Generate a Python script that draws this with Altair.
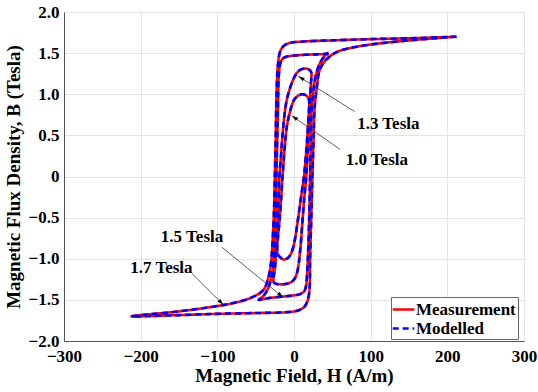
import math
import altair as alt
import pandas as pd

# ---------------- data ----------------
# 1.7 Tesla loop
desc17_H = [212, 150, 100, 50, 10, -5, -13, -18, -21, -23, -24, -25, -26, -28, -30, -34, -40, -55, -80, -100, -150, -212]
desc17_B = [1.70, 1.68, 1.67, 1.655, 1.64, 1.625, 1.59, 1.52, 1.35, 0.90, 0.40, 0.00, -0.40, -0.80, -1.05, -1.25, -1.38, -1.47, -1.54, -1.575, -1.64, -1.70]
asc17_H = [-212, -150, -100, -50, -10, 5, 13, 17, 20, 21, 22.5, 24, 25.5, 27, 30, 33, 40, 55, 80, 100, 150, 212]
asc17_B = [-1.70, -1.685, -1.67, -1.66, -1.65, -1.63, -1.59, -1.53, -1.40, -1.00, -0.50, 0.00, 0.45, 0.85, 1.10, 1.28, 1.40, 1.51, 1.575, 1.605, 1.655, 1.70]

# 1.5 Tesla loop
desc15_H = [45, 40, 30, 15, 0, -10, -15, -18, -20, -21, -22, -23, -24, -25.5, -28, -33, -38, -42, -46]
desc15_B = [1.50, 1.49, 1.485, 1.48, 1.47, 1.455, 1.43, 1.37, 1.20, 0.80, 0.40, 0.00, -0.40, -0.80, -1.15, -1.34, -1.43, -1.47, -1.50]
asc15_H = [-46, -40, -30, -15, 0, 8, 13, 15.5, 17, 18.5, 20, 21, 22, 23, 26, 29, 33, 38, 42, 45]
asc15_B = [-1.50, -1.49, -1.475, -1.46, -1.445, -1.43, -1.40, -1.34, -1.20, -0.90, -0.45, 0.00, 0.45, 0.80, 1.10, 1.25, 1.36, 1.44, 1.48, 1.50]

# 1.3 Tesla loop
desc13_H = [23, 21, 17, 12, 7, 3, -1, -5, -9, -12, -15, -17, -19, -20.5, -22, -23.5, -25, -26.5, -27]
desc13_B = [1.25, 1.29, 1.31, 1.31, 1.29, 1.25, 1.18, 1.08, 0.95, 0.78, 0.50, 0.25, 0.00, -0.35, -0.70, -0.95, -1.12, -1.22, -1.27]
asc13_H = [-27, -25, -20, -14, -8, -3, 1, 4, 6, 7.5, 9, 11, 13.5, 16, 18, 19.5, 21, 22, 23]
asc13_B = [-1.27, -1.30, -1.31, -1.31, -1.30, -1.28, -1.24, -1.17, -1.07, -0.95, -0.80, -0.55, -0.25, 0.00, 0.35, 0.70, 0.95, 1.12, 1.25]

# 1.0 Tesla loop
desc10_H = [20, 19, 15, 10, 5, 0, -3, -6, -9, -11, -13, -15, -17, -19, -21, -22]
desc10_B = [0.88, 0.95, 0.99, 1.00, 0.98, 0.93, 0.86, 0.76, 0.63, 0.47, 0.25, 0.00, -0.30, -0.55, -0.75, -0.88]
asc10_H = [-22, -21, -17, -13, -8, -4, -1, 1.5, 4, 7, 10, 13, 15.5, 17.5, 19, 20]
asc10_B = [-0.88, -0.95, -0.99, -1.01, -0.99, -0.94, -0.86, -0.75, -0.60, -0.40, -0.20, 0.00, 0.25, 0.50, 0.72, 0.88]

series_names = ["Measurement", "Modelled"]
series_colors = ["#ff0000", "#0000ff"]

# annotations
label_text = ["1.3 Tesla", "1.0 Tesla", "1.5 Tesla", "1.7 Tesla"]
label_H = [123, 108, -133, -173]
label_B = [0.64, 0.20, -0.74, -1.11]
arrow_H0 = [79, 60, -94, -133]
arrow_B0 = [0.79, 0.33, -0.86, -1.18]
arrow_H1 = [5.6, -3, -14, -92]
arrow_B1 = [1.22, 0.74, -1.47, -1.56]

# ---------------- build tables ----------------
W, Hh = 460, 329
loops = {
    "1.7": (desc17_H, desc17_B, asc17_H, asc17_B),
    "1.5": (desc15_H, desc15_B, asc15_H, asc15_B),
    "1.3": (desc13_H, desc13_B, asc13_H, asc13_B),
    "1.0": (desc10_H, desc10_B, asc10_H, asc10_B),
}
rows = []
for s in series_names:
    for name, (dh, db, ah, ab) in loops.items():
        hs = list(dh) + list(ah[1:])
        bs = list(db) + list(ab[1:])
        for i, (h, b) in enumerate(zip(hs, bs)):
            rows.append({"series": s, "loop": name, "i": i, "H": h, "B": b})
df = pd.DataFrame(rows)

ann = pd.DataFrame({"text": label_text, "H": label_H, "B": label_B})
arr_rows = []
for h0, b0, h1, b1 in zip(arrow_H0, arrow_B0, arrow_H1, arrow_B1):
    dx = (h1 - h0) * W / 600.0
    dy = -(b1 - b0) * Hh / 4.0
    ang = math.degrees(math.atan2(dx, -dy)) % 360
    arr_rows.append({"H0": h0, "B0": b0, "H1": h1, "B1": b1, "ang": ang})
arr = pd.DataFrame(arr_rows)

FONT = "'Liberation Serif', 'Times New Roman', 'DejaVu Serif', serif"

xscale = alt.Scale(domain=[-300, 300], nice=False)
yscale = alt.Scale(domain=[-2, 2], nice=False)

xaxis = alt.Axis(
    values=[-300, -200, -100, 0, 100, 200, 300], title="Magnetic Field, H (A/m)",
    grid=True, ticks=False, labelPadding=7, labelFlush=False, labelOverlap=False,
    titlePadding=2,
)
yaxis = alt.Axis(
    values=[-2, -1.5, -1, -0.5, 0, 0.5, 1, 1.5, 2], title="Magnetic Flux Density, B (Tesla)",
    grid=True, ticks=False, labelPadding=5, labelFlush=False, labelOverlap=False,
    labelExpr="datum.value == 0 ? '0' : format(datum.value, '.1f')",
    titlePadding=5,
)

lines = alt.Chart(df).mark_line(interpolate="catmull-rom", strokeWidth=2.6, clip=True).encode(
    x=alt.X("H:Q", scale=xscale, axis=xaxis),
    y=alt.Y("B:Q", scale=yscale, axis=yaxis),
    color=alt.Color("series:N", scale=alt.Scale(domain=series_names, range=series_colors), title=None),
    strokeDash=alt.StrokeDash("series:N", scale=alt.Scale(domain=series_names, range=[[1, 0], [6, 4]]), title=None),
    detail="loop:N",
    order="i:Q",
)

rules = alt.Chart(arr).mark_rule(color="#333333", strokeWidth=0.8).encode(
    x="H0:Q", y="B0:Q", x2="H1:Q", y2="B1:Q"
)
heads = alt.Chart(arr).mark_point(
    shape="M0,0L-0.4,1.3L0.4,1.3Z", filled=True, color="#111111", size=100, opacity=1
).encode(x="H1:Q", y="B1:Q", angle=alt.Angle("ang:Q", scale=None))

texts = alt.Chart(ann).mark_text(
    font=FONT, fontSize=17, fontWeight="bold", color="black", align="center", baseline="middle"
).encode(x="H:Q", y="B:Q", text="text:N")

chart = alt.layer(lines, rules, heads, texts).properties(
    width=W, height=Hh,
    autosize=alt.AutoSizeParams(type="none"),
    padding={"left": 64, "top": 12, "right": 14, "bottom": 51},
    background="white",
).configure_view(
    stroke="#7a7a7a", strokeWidth=1
).configure_axis(
    labelFont=FONT, labelFontSize=17, labelFontWeight="bold", labelColor="black",
    titleFont=FONT, titleFontSize=19, titleFontWeight="bold", titleColor="black",
    gridColor="#e4e4e4", gridWidth=1, domainColor="#555555", domainWidth=1,
).configure_legend(
    orient="none", legendX=327, legendY=285,
    fillColor="white", strokeColor="#666666", padding=2, cornerRadius=0,
    symbolType="M-1.2,0L1.2,0", symbolSize=324, symbolStrokeWidth=2.4,
    labelFont=FONT, labelFontSize=17, labelFontWeight="bold", labelColor="black",
    rowPadding=0, labelOffset=2, offset=0,
)

chart.save("out.html", embed_options={"renderer": "svg", "actions": False})
